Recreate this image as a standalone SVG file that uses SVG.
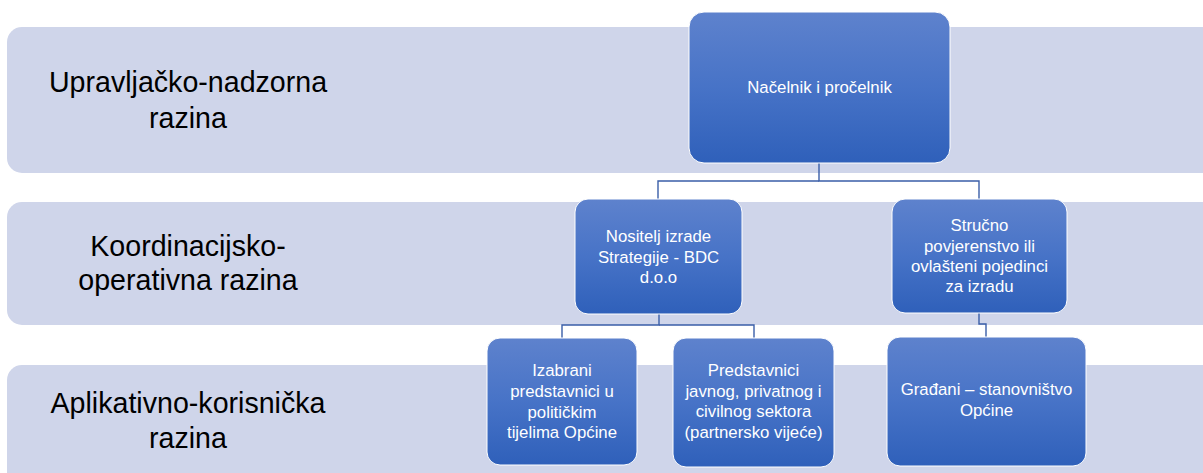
<svg xmlns="http://www.w3.org/2000/svg" width="1203" height="473" viewBox="0 0 1203 473">
  <defs>
    <linearGradient id="nodeGrad" x1="0" y1="0" x2="0" y2="1">
      <stop offset="0" stop-color="#5E82CD"/>
      <stop offset="0.5" stop-color="#4773C7"/>
      <stop offset="1" stop-color="#2F60BA"/>
    </linearGradient>
    <style>
      .band { fill: #CFD5EA; }
      .lvl { font-family: "Liberation Sans", Arial, sans-serif; font-size: 28.6px; fill: #000000; text-anchor: middle; }
      .node rect { fill: url(#nodeGrad); stroke: #FFFFFF; stroke-width: 1; }
      .node text { font-family: "Liberation Sans", Arial, sans-serif; font-size: 16.8px; fill: #FFFFFF; text-anchor: middle; }
      .conn { fill: none; stroke: #3A5EA8; stroke-width: 1.4; }
    </style>
  </defs>

  <rect width="1203" height="473" fill="#FFFFFF"/>

  <g id="bands">
    <rect class="band" x="7" y="27" width="1215" height="146" rx="15"/>
    <rect class="band" x="7" y="202" width="1215" height="123" rx="15"/>
    <rect class="band" x="7" y="365" width="1215" height="130" rx="15"/>
  </g>

  <g id="level-labels">
    <text class="lvl" x="188" y="92">Upravljačko-nadzorna</text>
    <text class="lvl" x="188" y="128">razina</text>
    <text class="lvl" x="188" y="256">Koordinacijsko-</text>
    <text class="lvl" x="188" y="290">operativna razina</text>
    <text class="lvl" x="188" y="413">Aplikativno-korisnička</text>
    <text class="lvl" x="188" y="448">razina</text>
  </g>

  <g id="connectors">
    <path class="conn" d="M819,163 V181 H979 V200"/>
    <path class="conn" d="M819,181 H658 V200"/>
    <path class="conn" d="M659,314 V325 H562 V338"/>
    <path class="conn" d="M659,325 H754 V338"/>
    <path class="conn" d="M979,313 V324 H986 V337"/>
  </g>

  <g id="node-nacelnik" class="node">
    <rect x="689" y="12" width="261" height="151" rx="15"/>
    <text x="819.5" y="93">Načelnik i pročelnik</text>
  </g>

  <g id="node-nositelj" class="node">
    <rect x="575" y="199" width="167" height="115" rx="13"/>
    <text x="658.5" y="242">Nositelj izrade</text>
    <text x="658.5" y="263">Strategije - BDC</text>
    <text x="658.5" y="283">d.o.o</text>
  </g>

  <g id="node-strucno" class="node">
    <rect x="892" y="199" width="175" height="114" rx="13"/>
    <text x="979.5" y="231">Stručno</text>
    <text x="979.5" y="252">povjerenstvo ili</text>
    <text x="979.5" y="272">ovlašteni pojedinci</text>
    <text x="979.5" y="292">za izradu</text>
  </g>

  <g id="node-izabrani" class="node">
    <rect x="487" y="338" width="150" height="127" rx="13"/>
    <text x="562" y="376">Izabrani</text>
    <text x="562" y="397">predstavnici u</text>
    <text x="562" y="418">političkim</text>
    <text x="562" y="438">tijelima Općine</text>
  </g>

  <g id="node-predstavnici" class="node">
    <rect x="673" y="338" width="161" height="129" rx="13"/>
    <text x="753.5" y="376">Predstavnici</text>
    <text x="753.5" y="397">javnog, privatnog i</text>
    <text x="753.5" y="417">civilnog sektora</text>
    <text x="753.5" y="438">(partnersko vijeće)</text>
  </g>

  <g id="node-gradani" class="node">
    <rect x="887" y="337" width="199" height="129" rx="13"/>
    <text x="986.5" y="395">Građani – stanovništvo</text>
    <text x="986.5" y="416">Općine</text>
  </g>
</svg>
